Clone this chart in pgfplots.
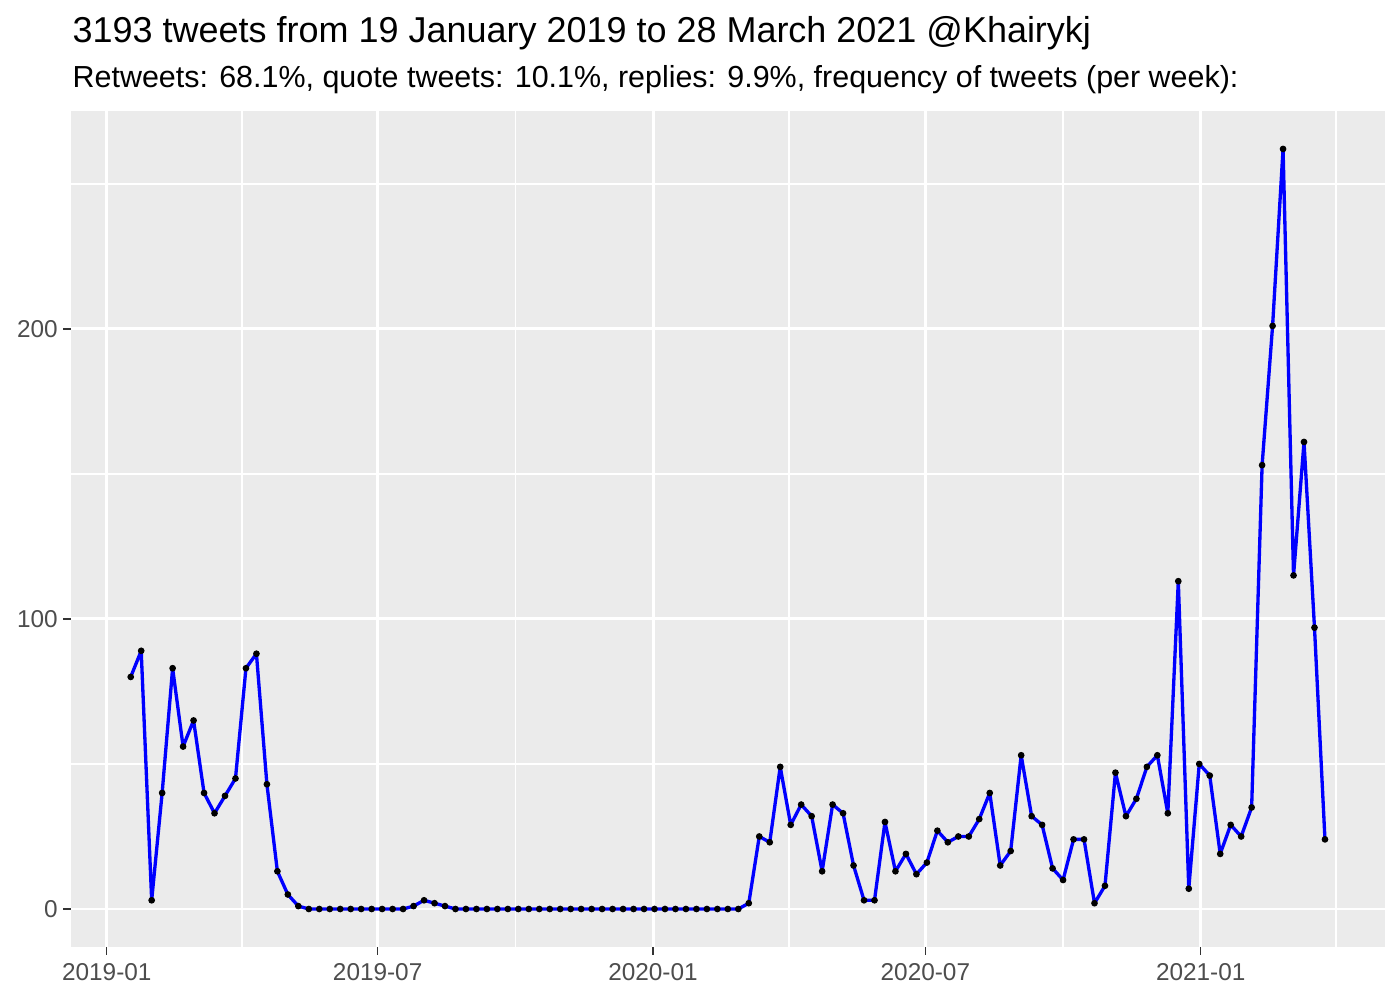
\documentclass[border=0pt]{standalone}
\usepackage{pgfplots}
\usepackage{pgfplotstable}
\pgfplotsset{compat=1.18}
\usepackage{fontspec}
\setmainfont{Liberation Sans}
\definecolor{panelbg}{HTML}{EBEBEB}
\definecolor{ticktext}{HTML}{4D4D4D}
\definecolor{tickcol}{HTML}{333333}
\pgfplotstableread{
x y
16 80
23 89
30 3
37 40
44 83
51 56
58 65
65 40
72 33
79 39
86 45
93 83
100 88
107 43
114 13
121 5
128 1
135 0
142 0
149 0
156 0
163 0
170 0
177 0
184 0
191 0
198 0
205 1
212 3
219 2
226 1
233 0
240 0
247 0
254 0
261 0
268 0
275 0
282 0
289 0
296 0
303 0
310 0
317 0
324 0
331 0
338 0
345 0
352 0
359 0
366 0
373 0
380 0
387 0
394 0
401 0
408 0
415 0
422 0
429 2
436 25
443 23
450 49
457 29
464 36
471 32
478 13
485 36
492 33
499 15
506 3
513 3
520 30
527 13
534 19
541 12
548 16
555 27
562 23
569 25
576 25
583 31
590 40
597 15
604 20
611 53
618 32
625 29
632 14
639 10
646 24
653 24
660 2
667 8
674 47
681 32
688 38
695 49
702 53
709 33
716 113
723 7
730 50
737 46
744 19
751 29
758 25
765 35
772 153
779 201
786 262
793 115
800 161
807 97
814 24
}\tweets
\begin{document}
\begin{tikzpicture}
\useasboundingbox (-25.66pt,-19.15pt) rectangle (480.23pt,342.2pt);
\begin{axis}[
  at={(0,0)}, anchor=south west,
  scale only axis, width=474.8pt, height=302.1pt,
  xmin=-23.9, xmax=854.1, ymin=-13.1, ymax=275.1,
  axis background/.style={fill=panelbg},
  axis line style={draw=none},
  tick align=outside,
  xtick pos=bottom, ytick pos=left,
  major tick length=2.75pt,
  minor tick length=0pt,
  tick style={color=tickcol, line width=0.5pt},
  xtick={0,181,365,547,731},
  xticklabels={2019-01,2019-07,2020-01,2020-07,2021-01},
  minor xtick={90.5,273,456,639,821.5},
  ytick={0,100,200},
  yticklabels={0,100,200},
  minor ytick={50,150,250},
  grid=both,
  major grid style={white, line width=1.07pt},
  minor grid style={white, line width=0.53pt},
  ticklabel style={font=\fontsize{8.8}{10}\selectfont, text=ticktext},
  xticklabel style={yshift=0.5pt},
  yticklabel style={xshift=1.5pt},
  clip=false,
]
\addplot[only marks, mark=*, mark size=1pt, black] table[x=x,y=y] {\tweets};
\addplot[blue, line width=1.2pt, no marks, line join=round] table[x=x,y=y] {\tweets};
\end{axis}
\node[anchor=base west, inner sep=0pt, font=\fontsize{13}{15}\selectfont] at (0.4pt,326.7pt) {3193 tweets from 19 January 2019 to 28 March 2021 @Khairykj};
\node[anchor=base west, inner sep=0pt, font=\fontsize{11}{13}\selectfont] at (0.4pt,310.5pt) {Retweets: 68.1\%, quote tweets: 10.1\%, replies: 9.9\%, frequency of tweets (per week):};
\end{tikzpicture}
\end{document}
